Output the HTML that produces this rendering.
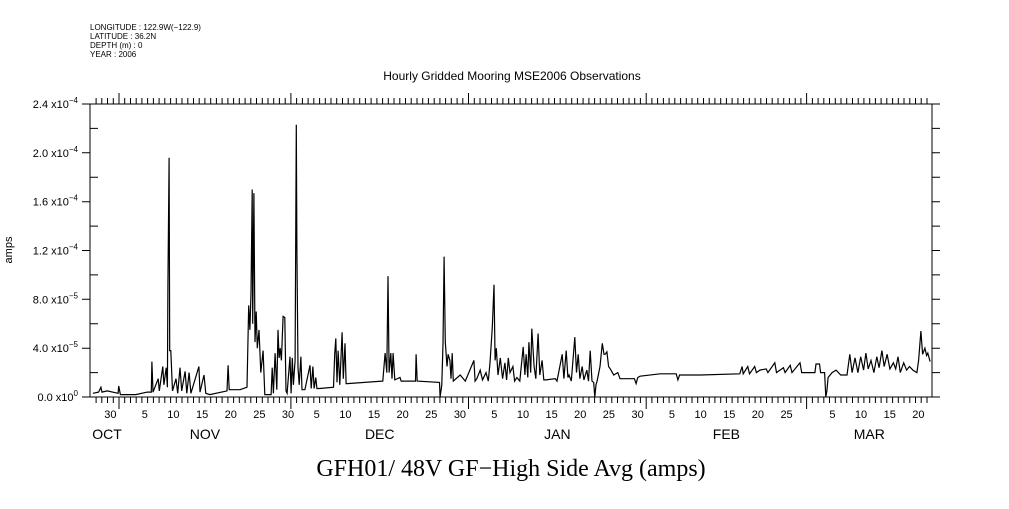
<!DOCTYPE html>
<html><head><meta charset="utf-8"><style>
body{margin:0;background:#fff;}
svg text{font-family:"Liberation Sans",sans-serif;fill:#000;}
</style></head><body>
<svg id="chart" width="1009" height="504" xmlns="http://www.w3.org/2000/svg">
<g id="meta" font-size="8">
<text x="90" y="30">LONGITUDE : 122.9W(−122.9)</text>
<text x="90" y="39">LATITUDE : 36.2N</text>
<text x="90" y="48">DEPTH (m) : 0</text>
<text x="90" y="57">YEAR : 2006</text>
</g>
<text x="512" y="80" font-size="12" text-anchor="middle">Hourly Gridded Mooring MSE2006 Observations</text>
<text x="511" y="476" font-size="24" text-anchor="middle" style="font-family:'Liberation Serif',serif">GFH01/ 48V GF−High Side Avg (amps)</text>
<text transform="translate(12,250) rotate(-90)" font-size="11" text-anchor="middle">amps</text>
<rect x="90" y="104" width="842" height="293" fill="none" stroke="#000" stroke-width="1"/>
<g id="axes"></g>
<path id="series" fill="none" stroke="#000" stroke-width="1.2"/>
</svg>
<script>
const times=[0.5,1.5,1.9,2.1,3.0,4.9,5.0,5.3,8,10,10.7,10.8,11.0,11.9,12.1,12.7,12.9,13.3,13.5,13.6,13.8,13.9,14.1,14.4,15.0,15.3,15.7,16.0,16.6,16.9,17.3,17.6,19.0,19.2,19.9,20.2,20.9,23.9,24.1,24.3,26.2,27.4,27.7,27.9,28.1,28.3,28.4,28.6,28.8,29.0,29.2,29.5,29.8,30.2,30.5,31.6,31.8,32.0,32.3,32.6,32.8,33.0,33.2,33.4,33.7,34.0,34.2,34.4,34.9,35.1,35.3,35.5,35.8,36.0,36.1,36.3,36.5,36.8,37.0,37.5,38.4,38.6,38.9,39.1,39.4,39.6,40.1,42.5,42.7,42.9,43.1,43.3,43.6,44.0,44.2,44.5,44.7,44.9,51.1,51.5,51.8,52.0,52.2,52.5,52.7,52.9,53.2,54.1,54.3,56.8,56.9,57.1,61.0,61.1,61.4,61.6,61.8,62.0,62.3,62.5,62.8,63.0,63.2,63.4,64.6,65.5,67.0,67.2,67.5,68.1,68.5,69.1,69.5,69.8,70.2,70.5,70.7,70.9,71.2,71.6,72.0,72.4,72.7,73.0,73.3,73.8,74.1,74.5,75.0,75.6,75.9,76.1,76.4,76.6,76.9,77.1,77.5,77.8,78.2,78.5,78.9,79.2,79.6,81.2,81.5,82.4,82.7,83.1,83.4,83.6,84.0,84.6,84.9,85.2,85.5,85.9,86.2,86.7,87.0,87.3,87.6,87.9,88.1,88.3,88.5,89.0,89.4,89.7,89.9,90.2,90.5,90.8,91.4,92.1,92.5,94.6,95.0,95.3,95.6,96.0,99.5,102.3,102.6,102.9,104.7,106.5,113.4,113.8,114.0,114.8,115.1,116.0,116.3,116.9,118.0,118.3,119.5,119.8,121.0,121.3,122.2,122.5,123.9,124.2,125.1,126.5,126.7,127.3,127.5,128.2,128.4,128.6,128.8,129.5,130.2,131,132.1,132.6,133.0,133.5,134.0,134.5,135.0,135.4,135.8,136.3,136.8,137.3,137.7,138.2,138.6,139.1,139.6,140.2,140.6,141.0,141.4,142.0,142.5,143.0,143.6,144.3,144.6,145.0,145.3,145.7,146.0,146.2,146.6];
const values=[0.3,0.4,0.8,0.4,0.5,0.3,0.9,0.2,0.2,0.4,0.4,2.9,0.4,1.5,0.5,2.5,1.0,2.4,0.8,9.0,19.6,3.8,3.8,0.5,1.5,0.3,2.4,0.5,2.1,0.3,2.0,0.3,2.5,0.4,1.8,0.3,0.2,0.5,2.6,0.6,0.6,0.8,7.5,5.5,8.5,17.0,6,16.7,4.5,7.0,4.0,5.5,2.0,3.8,0.2,0.2,2.4,0.3,3.6,0.6,5.5,3.2,4.0,3.0,6.6,6.5,0.5,0.3,3.3,0.3,3.2,1.0,3.0,22.3,12.0,2.4,1.0,3.3,0.6,0.6,2.6,0.7,2.5,0.7,1.6,0.7,0.7,0.8,3.5,4.8,1.2,3.8,1.0,5.3,1.5,4.4,1.1,1.1,1.3,3.6,2.0,9.9,2.0,3.6,1.5,3.6,1.4,1.6,1.3,1.3,3.5,1.3,1.2,0.0,1.0,4.4,11.5,4.5,2.5,3.5,3.0,1.5,3.6,1.3,1.8,1.3,3.0,1.3,1.5,2.2,1.4,2.0,1.3,2.8,5.7,9.2,3.0,4.0,1.8,3.2,1.5,2.8,1.4,3.2,2.0,2.5,1.3,1.6,1.3,4.1,1.8,3.5,1.6,4.5,2.0,5.6,2.5,1.5,5.2,1.8,3.0,1.4,1.4,1.5,1.3,3.5,1.5,3.8,1.6,1.8,1.3,4.9,2.0,3.5,1.5,2.5,1.4,2.2,1.3,3.8,1.3,1.2,0.0,1.0,1.3,2.5,4.4,3.5,3.5,3.7,2.5,2.3,1.8,2.0,1.5,1.5,1.5,1.1,1.6,1.7,1.9,1.9,1.4,1.8,1.8,1.8,1.9,2.5,1.9,2.5,1.9,2.5,2.0,2.2,2.3,2.0,2.8,2.0,2.4,2.0,2.6,2.0,2.8,2.0,2.0,2.0,2.7,2.7,2.0,2.0,0.0,0.5,1.6,2.0,2.2,1.8,1.8,3.5,2.0,3.2,2.0,3.3,2.2,3.6,2.3,3.0,2.0,3.3,2.4,3.8,2.5,3.5,2.3,2.8,2.3,3.3,2.0,2.8,2.2,2.5,2.2,2.0,3.0,5.4,3.5,4.0,3.4,3.6,2.9];
const yTickValues=[0,4,8,12,16,20,24];
const yTickLabels=["0.0 x10|0","4.0 x10|-5","8.0 x10|-5","1.2 x10|-4","1.6 x10|-4","2.0 x10|-4","2.4 x10|-4"];
const monthNames=["OCT","NOV","DEC","JAN","FEB","MAR"];
const monthStarts=[-25.94,5.06,35.06,66.06,97.06,125.06];
const monthLabelDays=[[30],[5,10,15,20,25,30],[5,10,15,20,25,30],[5,10,15,20,25,30],[5,10,15,20,25],[5,10,15,20]];
const T0=0,T1=146.94,Y0=0,Y1=24;
const X=t=>90+(t-T0)/(T1-T0)*842;
const Y=v=>397-(v-Y0)/(Y1-Y0)*293;
const NS="http://www.w3.org/2000/svg";
const ax=document.getElementById('axes');
function mk(tag,attrs){const e=document.createElementNS(NS,tag);for(const k in attrs)e.setAttribute(k,attrs[k]);ax.appendChild(e);return e;}
let d='';
for(let t=1.06;t<T1;t+=1){const x=X(t).toFixed(1);d+=`M${x} 397V403M${x} 104V98`;}
monthStarts.forEach(s=>{if(s>0){const x=X(s).toFixed(1);d+=`M${x} 397V409M${x} 104V93`;}});
for(let v=0;v<=24;v+=2){const y=Y(v).toFixed(1);d+=`M90 ${y}H${v%4==0?82:98}M932 ${y}H940`;}
const tk=mk('path',{d:d,stroke:'#000','stroke-width':1,fill:'none'});


yTickValues.forEach((v,i)=>{const p=yTickLabels[i].split('|');
const t=mk('text',{x:78,y:Y(v)+4,'font-size':11,'text-anchor':'end'});


t.innerHTML=p[0]+'<tspan dy="-5" font-size="8">'+p[1].replace('-','−')+'</tspan>';});
monthNames.forEach((m,i)=>{
monthLabelDays[i].forEach(dd=>{const t=mk('text',{x:X(monthStarts[i]+dd-0.5),y:418,'font-size':11,'text-anchor':'middle'});


t.textContent=dd;});
const a=Math.max(monthStarts[i],T0);
const b=i<monthStarts.length-1?monthStarts[i+1]:T1;
const cx=i==0?107:X((a+b)/2);
const ml=mk('text',{x:cx,y:439,'font-size':14,'text-anchor':'middle'});


ml.textContent=m;});
let p='';times.forEach((t,i)=>{p+=(i?'L':'M')+X(t).toFixed(1)+' '+Y(values[i]).toFixed(1);});
document.getElementById('series').setAttribute('d',p);
</script>
</body></html>
